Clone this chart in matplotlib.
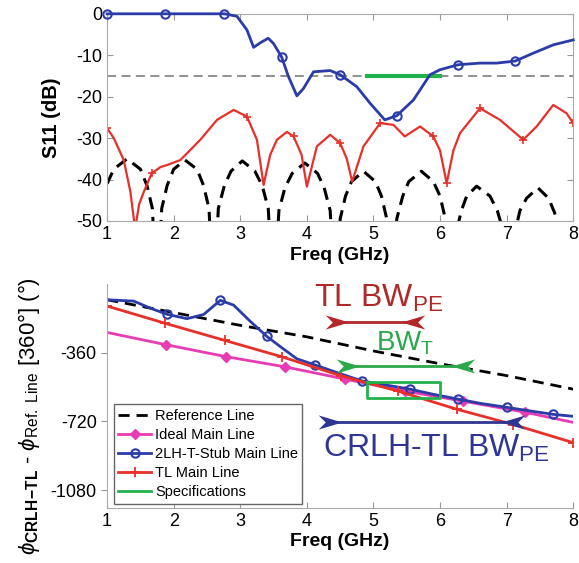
import numpy as np
import matplotlib
matplotlib.use("Agg")
import matplotlib.pyplot as plt
from matplotlib.path import Path

plt.rcParams['font.family'] = ['Liberation Sans', 'DejaVu Sans']
plt.rcParams['mathtext.fontset'] = 'custom'
plt.rcParams['mathtext.rm'] = 'Liberation Sans'
plt.rcParams['mathtext.it'] = 'Liberation Sans:italic'
plt.rcParams['mathtext.bf'] = 'Liberation Sans:bold'
plt.rcParams['axes.unicode_minus'] = False

# ---- top panel: S11 ----
freq_stub = [1, 1.87, 2.76, 2.95, 3.1, 3.2, 3.3, 3.42, 3.5, 3.62, 3.72, 3.85, 3.95, 4.1,
             4.35, 4.5, 4.75, 4.95, 5.17, 5.35, 5.6, 5.85, 6.0, 6.27, 6.6, 6.85, 7.13,
             7.4, 7.7, 8]
s11_stub = [0, 0, 0, -0.6, -3.9, -8.1, -7.0, -5.9, -7.2, -10.4, -15, -19.8, -18, -14,
            -13.7, -14.7, -17.6, -21.6, -25.6, -24.6, -20.8, -14.7, -13.5, -12.3, -11.9,
            -11.9, -11.4, -9.5, -7.5, -6.3]
stub_marks = [0, 1, 2, 9, 15, 19, 23, 26]

freq_tl = [1, 1.1, 1.25, 1.35, 1.42, 1.48, 1.55, 1.67, 1.8, 1.9, 2.1, 2.4, 2.65, 2.9,
           3.1, 3.25, 3.35, 3.45, 3.55, 3.7, 3.8, 3.92, 4.0, 4.15, 4.35, 4.5, 4.6, 4.68,
           4.85, 5.1, 5.3, 5.47, 5.7, 5.9, 6.0, 6.1, 6.2, 6.3, 6.6, 6.9, 7.25, 7.45,
           7.7, 7.9, 8]
s11_tl = [-27.6, -30, -35.3, -43, -52, -46, -43, -38.5, -37, -36.5, -35.3, -30.4, -25.6,
          -23.2, -24.8, -30.4, -41.3, -34, -30.4, -28.5, -29.6, -34, -41.7, -32, -29.2,
          -31.2, -35, -40.5, -32, -26.4, -26.8, -29.6, -27.2, -29.6, -33, -40.9, -33,
          -28.8, -22.8, -25.6, -30.4, -27.2, -22, -24, -26.4]
tl_marks = [0, 7, 14, 20, 25, 29, 33, 35, 38, 40, 44]

freq_ref = [1.0, 1.1, 1.3, 1.5, 1.6, 1.68, 1.75, 1.82, 1.9, 2.0, 2.17, 2.35, 2.45, 2.53,
            2.6, 2.67, 2.76, 2.86, 3.03, 3.22, 3.33, 3.42, 3.5, 3.58, 3.67, 3.78, 3.97,
            4.16, 4.26, 4.35, 4.43, 4.5, 4.58, 4.67, 4.85, 5.03, 5.12, 5.2, 5.28, 5.35,
            5.44, 5.53, 5.72, 5.9, 6.0, 6.08, 6.15, 6.24, 6.32, 6.4, 6.55, 6.75, 6.86,
            6.96, 7.05, 7.12, 7.2, 7.3, 7.47, 7.63, 7.72, 7.8, 7.85, 8.0]
s11_ref = [-41, -37.5, -35, -37.5, -41.5, -47, -70, -47, -41.5, -37.5, -35.3, -37.5,
           -41.5, -47, -70, -47, -41.5, -38, -35.5, -38, -41.5, -47, -70, -47.5, -42,
           -38.5, -36, -38.5, -42, -47.5, -70, -49.5, -44, -40.5, -38, -40.5, -44, -49.5,
           -70, -49.5, -44, -40.5, -38, -40.5, -44, -49.5, -70, -53, -47.5, -44, -41.6,
           -44, -47.5, -53, -70, -53, -47.5, -44.5, -42, -44.5, -48, -53, -70, -58]

spec_freq = [4.9, 6.0]
spec_s11 = -15
spec_phase = [-512, -596]

# ---- bottom panel: phase ----
freq_refline = [1, 2, 3, 4, 5, 6, 7, 8]
ph_refline = [-83, -150, -217, -277, -351, -418, -480, -551]

freq_ideal = [1, 1.88, 2.79, 3.67, 4.57, 5.47, 6.35, 7.28, 8]
ph_ideal = [-254, -318, -381, -434, -498, -561, -614, -672, -725]

freq_tlm = [1, 1.87, 2.77, 3.62, 4.52, 5.37, 6.25, 7.1, 8]
ph_tlm = [-116, -206, -296, -381, -482, -561, -656, -736, -831]

freq_stubm = [1, 1.4, 1.65, 1.9, 2.2, 2.45, 2.7, 2.9, 3.15, 3.4, 3.6, 3.85, 4.12, 4.5,
              4.83, 5.2, 5.55, 5.9, 6.27, 6.6, 7.0, 7.35, 7.7, 8]
ph_stubm = [-83, -90, -127, -159, -182, -160, -86, -111, -196, -275, -328, -392, -424,
            -470, -508, -530, -551, -578, -603, -625, -646, -665, -683, -693]
stubm_marks = [3, 6, 9, 12, 14, 16, 18, 20, 22]

bw_tl = [4.45, 5.6]
bw_t = [4.62, 6.35]
bw_crlh = [4.35, 7.1]

c_blue = '#2b3ca8'
c_red = '#e8302a'
c_pink = '#e83cb4'
c_green = '#22b24c'

fig = plt.figure(figsize=(5.79, 5.63), dpi=100)
ax1 = fig.add_axes([0.185, 0.6075, 0.805, 0.368])
ax2 = fig.add_axes([0.185, 0.0977, 0.805, 0.398])

ax1.axhline(spec_s11, color='#888888', ls='--', lw=1.3, dashes=(5, 3))
ax1.plot(freq_ref, s11_ref, color='black', ls='--', lw=2.2, dashes=(4, 2.5))
ax1.plot(freq_tl, s11_tl, color=c_red, lw=1.6, marker='+', markevery=tl_marks, ms=6, mew=1.2)
ax1.plot(freq_stub, s11_stub, color=c_blue, lw=2, marker='o', markevery=stub_marks,
         ms=6, mfc='none', mew=1.5, clip_on=False, zorder=5)
ax1.plot(spec_freq, [spec_s11, spec_s11], color=c_green, lw=3)
ax1.set_xlim(1, 8)
ax1.set_ylim(-50, 0)
ax1.set_yticks([0, -10, -20, -30, -40, -50])
ax1.set_xticks(range(1, 9))
ax1.set_xlabel('Freq (GHz)', fontsize=14, fontweight='bold', labelpad=3)
ax1.set_ylabel('S11 (dB)', fontsize=14.5, fontweight='bold')
ax1.yaxis.set_label_coords(-0.098, 0.5)
ax1.tick_params(direction='in', top=True, right=True, labelsize=13, length=4, color='#999999')
for s in ax1.spines.values():
    s.set_color('#aaaaaa')

ax2.plot(freq_refline, ph_refline, color='black', ls='--', lw=2, dashes=(4, 2.5),
         label='Reference Line')
ax2.plot(freq_ideal, ph_ideal, color=c_pink, lw=2, marker='D', markevery=list(range(1, 8)),
         ms=5, label='Ideal Main Line')
ax2.plot(freq_stubm, ph_stubm, color=c_blue, lw=2, marker='o', markevery=stubm_marks,
         ms=6, mfc='none', mew=1.5, label='2LH-T-Stub Main Line')
ax2.plot(freq_tlm, ph_tlm, color=c_red, lw=2, marker='+', ms=7, mew=1.3,
         label='TL Main Line')
ax2.plot([spec_freq[0], spec_freq[1], spec_freq[1], spec_freq[0], spec_freq[0]],
         [spec_phase[0], spec_phase[0], spec_phase[1], spec_phase[1], spec_phase[0]],
         color=c_green, lw=2, label='Specifications')

# notched arrow heads
head = Path([(-1, 0.6), (1, 0), (-1, -0.6), (-0.4, 0), (-1, 0.6)],
            [Path.MOVETO, Path.LINETO, Path.LINETO, Path.LINETO, Path.CLOSEPOLY])
head_l = Path(head.vertices * [-1, 1], head.codes)


def bw_arrow(xs, y, color):
    ax2.plot(xs, [y, y], color=color, lw=2)
    ax2.plot([xs[0]], [y], marker=head, color=color, ms=17, mew=0)
    ax2.plot([xs[1]], [y], marker=head_l, color=color, ms=17, mew=0)


bw_arrow(bw_tl, -198, '#b02828')
bw_arrow(bw_t, -428, '#2aa84a')
bw_arrow(bw_crlh, -721, '#2e3592')
ax2.text(5.07, -77, r'TL BW$_{\mathrm{PE}}$', color='#b02828', fontsize=23,
         ha='center', va='center')
ax2.text(5.47, -313, r'BW$_{\mathrm{T}}$', color='#2aa84a', fontsize=20,
         ha='center', va='center')
ax2.text(5.95, -860, r'CRLH-TL BW$_{\mathrm{PE}}$', color='#2e3592', fontsize=23,
         ha='center', va='center')

ax2.set_xlim(1, 8)
ax2.set_ylim(-1173, 0)
ax2.set_yticks([-360, -720, -1080])
ax2.set_xticks(range(1, 9))
ax2.set_xlabel('Freq (GHz)', fontsize=14, fontweight='bold', labelpad=2)
ax2.set_ylabel(r'$\phi_{\mathbf{CRLH\!-\!TL}}$ - $\phi_{\mathrm{Ref.\ Line}}$ [360°] (°)',
               fontsize=16)
ax2.yaxis.set_label_coords(-0.14, 0.41)
ax2.tick_params(axis='x', direction='in', labelsize=13, length=4, color='#999999')
ax2.tick_params(axis='y', direction='out', labelsize=13, length=4, color='#999999')
ax2.spines['top'].set_visible(False)
ax2.spines['right'].set_visible(False)
for s in ('left', 'bottom'):
    ax2.spines[s].set_color('#aaaaaa')

leg = ax2.legend(loc='lower left', bbox_to_anchor=(0.015, 0.02), borderaxespad=0,
                 fontsize=10.5, handlelength=2.2, handletextpad=0.3, labelspacing=0.35,
                 fancybox=False, framealpha=1, borderpad=0.3)
leg.get_frame().set_edgecolor('#666666')
leg.get_frame().set_linewidth(1)

fig.savefig('out.png', dpi=100)
